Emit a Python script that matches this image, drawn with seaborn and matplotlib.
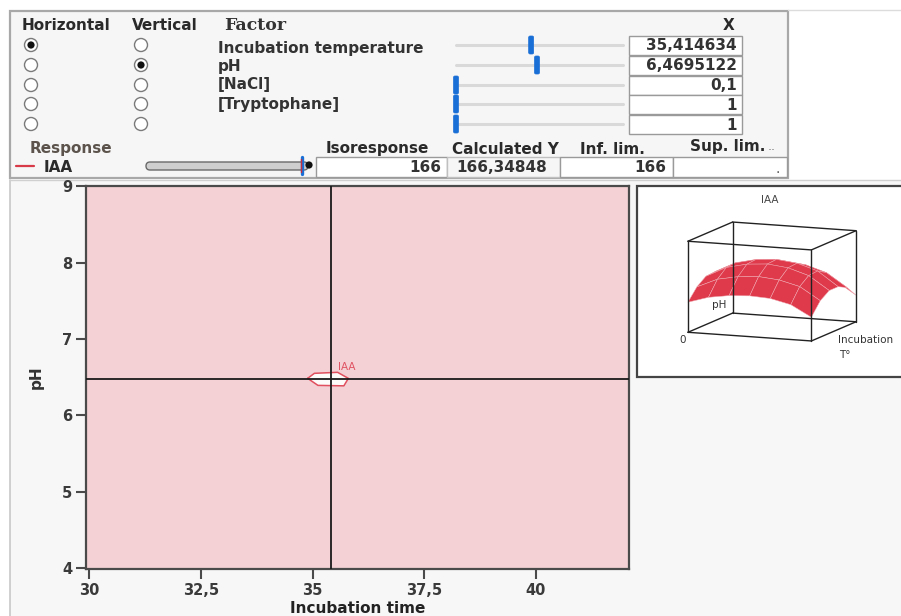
import numpy as np
import matplotlib
matplotlib.use("Agg")
import matplotlib.pyplot as plt
import seaborn as sns
import pandas as pd
from matplotlib.patches import Rectangle, Circle, FancyBboxPatch
from mpl_toolkits.mplot3d import proj3d

sns.set_theme(style="ticks")
plt.rcParams['font.family'] = ['DejaVu Sans']

# ---------------- data ----------------
factor_names = ["Incubation temperature", "pH", "[NaCl]", "[Tryptophane]", ""]
factor_values = ["35,414634", "6,4695122", "0,1", "1", "1"]
slider_frac = [0.45, 0.485, 0.0, 0.0, 0.0]
horizontal_choice = 0
vertical_choice = 1
response_name = "IAA"
isoresponse = "166"
calculated_y = "166,34848"
inf_lim = "166"
sup_lim = "."
x_current = 35.414634
y_current = 6.4695122
x_ticks = [30, 32.5, 35, 37.5, 40]
x_tick_labels = ["30", "32,5", "35", "37,5", "40"]
y_ticks = [4, 5, 6, 7, 8, 9]
contour_x = [34.89, 35.04, 35.56, 35.80, 35.70, 35.12, 34.89]
contour_y = [6.483, 6.549, 6.562, 6.483, 6.385, 6.391, 6.483]
# 3D thumbnail surface (IAA vs incubation T° and pH)
surf_T = [30, 32, 34, 36, 38, 40, 42]
surf_pH = [4, 5, 6, 7, 8, 9]
surf_Z = [
    [76, 92, 100, 103, 100, 88, 60],
    [105, 128, 138, 142, 137, 124, 92],
    [122, 148, 160, 164, 158, 142, 108],
    [124, 150, 162, 166, 160, 144, 108],
    [112, 136, 148, 152, 146, 130, 96],
    [85, 105, 116, 120, 114, 100, 67],
]

W, H = 901, 616
fig = plt.figure(figsize=(W / 100, H / 100), dpi=100, facecolor="white")

# ---------------- overlay (pixel coordinates) ----------------
bg = fig.add_axes([0, 0, 1, 1], zorder=0)
bg.set_xlim(0, W)
bg.set_ylim(H, 0)
bg.set_axis_off()

txt = "#2a2a2a"
FS = 11
grey_edge = "#a8a8a8"
bg.add_patch(Rectangle((10, 180), W - 10, H - 180, facecolor="#f7f7f7", edgecolor="none"))
bg.plot([10, 10], [180, H], color="#c8c8c8", lw=1.2)
bg.plot([10, W], [180, 180], color="#d0d0d0", lw=1.0)
bg.add_patch(Rectangle((10, 11), 778, 167, facecolor="#f6f6f6", edgecolor=grey_edge, lw=1.6))
bg.plot([788, W], [10, 10], color="#dcdcdc", lw=1.0)

bg.text(22, 25, "Horizontal", fontsize=FS, fontweight="bold", color=txt, va="center", ha="left")
bg.text(132, 25, "Vertical", fontsize=FS, fontweight="bold", color=txt, va="center", ha="left")
bg.text(224, 26, "Factor", fontsize=12.5, fontweight="bold", color="#333333", va="center", ha="left",
        family=["DejaVu Serif"])
bg.text(729, 26, "X", fontsize=FS, fontweight="bold", color=txt, va="center", ha="center")

row_y = [45, 65, 85, 104, 124]
name_y = [49, 66, 85, 104, 123]
track_x0, track_x1 = 456, 623
for i, yy in enumerate(row_y):
    for cx, chosen in ((31, horizontal_choice), (141, vertical_choice)):
        bg.add_patch(Circle((cx, yy), 6.5, facecolor="white", edgecolor="#7a7a7a", lw=1.0))
        if chosen == i:
            bg.add_patch(Circle((cx, yy), 3.6, facecolor="#111111", edgecolor="none"))
    bg.text(218, name_y[i], factor_names[i], fontsize=FS, fontweight="bold", color="#333333",
            va="center", ha="left")
    bg.plot([track_x0, track_x1], [yy, yy], color="#d9d9d9", lw=2.2, solid_capstyle="round", zorder=2)
    hx = track_x0 + slider_frac[i] * (track_x1 - track_x0)
    bg.add_patch(FancyBboxPatch((hx - 2.5, yy - 9), 5, 18, boxstyle="round,pad=0,rounding_size=1.5",
                                facecolor="#1a6fd6", edgecolor="#1a6fd6", lw=0.5, zorder=3))
    bg.add_patch(Rectangle((629, yy - 9.5), 113, 19.5, facecolor="white", edgecolor="#9a9a9a", lw=1.0))
    bg.text(737, yy + 1, factor_values[i], fontsize=FS, fontweight="bold", color="#333333",
            va="center", ha="right")

bg.text(30, 148, "Response", fontsize=FS, fontweight="bold", color="#5c544c", va="center", ha="left")
bg.plot([16, 34], [166, 166], color="#d83a48", lw=1.6)
bg.text(44, 167, response_name, fontsize=FS, fontweight="bold", color=txt, va="center", ha="left")
bg.add_patch(FancyBboxPatch((146, 162), 162, 8, boxstyle="round,pad=0,rounding_size=4",
                            facecolor="#cfcfcf", edgecolor="#6a6a6a", lw=1.0))
bg.plot([302, 302], [157, 174], color="#1a6fd6", lw=2.4)
bg.plot([300.5, 300.5], [159, 172], color="#c03040", lw=1.0)
bg.add_patch(Circle((309, 165), 3.6, facecolor="#111111", edgecolor="none", zorder=3))

bg.text(326, 148, "Isoresponse", fontsize=FS, fontweight="bold", color=txt, va="center", ha="left")
bg.text(452, 150, "Calculated Y", fontsize=FS, fontweight="bold", color=txt, va="center", ha="left")
bg.text(580, 149, "Inf. lim.", fontsize=FS, fontweight="bold", color=txt, va="center", ha="left")
bg.text(690, 147, "Sup. lim.", fontsize=FS, fontweight="bold", color=txt, va="center", ha="left")
bg.text(768, 147, "..", fontsize=9, color="#777777", va="center", ha="left")

bg.add_patch(Rectangle((316, 157), 131, 20, facecolor="white", edgecolor="#9a9a9a", lw=1.0))
bg.text(441, 167, isoresponse, fontsize=FS, fontweight="bold", color="#333333", va="center", ha="right")
bg.add_patch(Rectangle((447, 157), 113, 20, facecolor="#f6f6f6", edgecolor="#c0c0c0", lw=1.0))
bg.text(456, 167, calculated_y, fontsize=FS, fontweight="bold", color="#333333", va="center", ha="left")
bg.add_patch(Rectangle((560, 157), 113, 20, facecolor="white", edgecolor="#9a9a9a", lw=1.0))
bg.text(666, 167, inf_lim, fontsize=FS, fontweight="bold", color="#333333", va="center", ha="right")
bg.add_patch(Rectangle((673, 157), 114, 20, facecolor="white", edgecolor="#9a9a9a", lw=1.0))
bg.text(780, 169, sup_lim, fontsize=10, color="#555555", va="center", ha="right")

# 3D thumbnail frame
bg.add_patch(Rectangle((637, 186), W - 637 + 5, 191, facecolor="white", edgecolor="#444444", lw=1.6))
bg.text(770, 200, response_name, fontsize=7.5, color="#444444", va="center", ha="center")
bg.text(683, 340, "0", fontsize=7.5, color="#333333", va="center", ha="center")
bg.text(712, 305, "pH", fontsize=7.5, color="#333333", va="center", ha="left")
bg.text(838, 340, "Incubation", fontsize=7.5, color="#333333", va="center", ha="left")
bg.text(839, 355, "T°", fontsize=7.5, color="#333333", va="center", ha="left")

# ---------------- main contour plot ----------------
x0, x1 = 86, 629
y0, y1 = 185.5, 569
ax = fig.add_axes([x0 / W, (H - y1) / H, (x1 - x0) / W, (y1 - y0) / H], zorder=2)
ax.set_facecolor("#f3d1d5")
ax.set_xlim(29.93, 42.08)
ax.set_ylim(3.985, 9.01)

poly = pd.DataFrame({"x": contour_x, "y": contour_y})
ax.fill(poly["x"], poly["y"], color="white", alpha=0.92, zorder=2, lw=0)
sns.lineplot(data=poly, x="x", y="y", sort=False, estimator=None, color="#e0505e", lw=1.1, ax=ax, zorder=3)
ax.text(35.57, 6.63, response_name, fontsize=7.5, color="#e05262", ha="left", va="center", zorder=4)

ax.axvline(x_current, color="#1a1a1a", lw=1.3, zorder=5)
ax.axhline(y_current, color="#1a1a1a", lw=1.3, zorder=5)

ax.set_xticks(x_ticks)
ax.set_xticklabels(x_tick_labels)
ax.set_yticks(y_ticks)
ax.set_yticklabels([str(v) for v in y_ticks])
ax.tick_params(axis="both", direction="out", length=7, width=1.5, color="#4a4a4a",
               labelsize=10.5, labelcolor="#3a3a3a", pad=3)
for lab in ax.get_xticklabels() + ax.get_yticklabels():
    lab.set_fontweight("bold")
for sp in ax.spines.values():
    sp.set_color("#4a4a4a")
    sp.set_linewidth(1.6)
ax.set_xlabel("Incubation time", fontsize=FS, fontweight="bold", color="#222222", labelpad=2)
ax.set_ylabel("pH", fontsize=FS, fontweight="bold", color="#333333", labelpad=13)

# ---------------- 3D thumbnail ----------------
ax3 = fig.add_axes([655 / W, (H - 368) / H, 225 / W, 160 / H], projection="3d", zorder=3)
ax3.set_facecolor("none")
ax3.patch.set_alpha(0)
ax3.set_axis_off()
ax3.set_proj_type("ortho")
TT, PP = np.meshgrid(surf_T, surf_pH)
ZZ = np.array(surf_Z, dtype=float)
ax3.plot_surface(TT, PP, ZZ, color="#df3a4c", edgecolor="#f0a8b0", linewidth=0.35, shade=False)
tx = (30, 42); py = (4, 9); zz = (0, 230)
edges = []
for a in tx:
    for b in py:
        edges.append(([a, a], [b, b], list(zz)))
for a in tx:
    for c in zz:
        edges.append(([a, a], list(py), [c, c]))
for b in py:
    for c in zz:
        edges.append((list(tx), [b, b], [c, c]))
for ex, ey, ez in edges:
    ax3.plot(ex, ey, ez, color="#222222", lw=1.0)
ax3.set_xlim(*tx); ax3.set_ylim(*py); ax3.set_zlim(*zz)
ax3.set_box_aspect((1.44, 1.29, 1.0))
ax3.view_init(elev=10, azim=-68)

# fit the projected cube into its place in the thumbnail
target = (688, 856, H - 341, H - 222)  # left, right, bottom, top in display pixels
cube = np.array([[a, b, c] for a in tx for b in py for c in zz], dtype=float)
for _ in range(3):
    fig.canvas.draw()
    xs, ys, _z = proj3d.proj_transform(cube[:, 0], cube[:, 1], cube[:, 2], ax3.get_proj())
    d = ax3.transData.transform(np.column_stack([xs, ys]))
    l, r, b, t = d[:, 0].min(), d[:, 0].max(), d[:, 1].min(), d[:, 1].max()
    s = 0.5 * ((target[1] - target[0]) / (r - l) + (target[3] - target[2]) / (t - b))
    pos = ax3.get_position()
    axl, axb, axw, axh = pos.x0 * W, pos.y0 * H, pos.width * W, pos.height * H
    fx = ((l + r) / 2 - axl) / axw
    fy = ((b + t) / 2 - axb) / axh
    nw, nh = axw * s, axh * s
    ncx, ncy = (target[0] + target[1]) / 2, (target[2] + target[3]) / 2
    nl = ncx - fx * nw
    nb = ncy - fy * nh
    ax3.set_position([nl / W, nb / H, nw / W, nh / H])

fig.savefig("out.png", dpi=100, facecolor=fig.get_facecolor())
